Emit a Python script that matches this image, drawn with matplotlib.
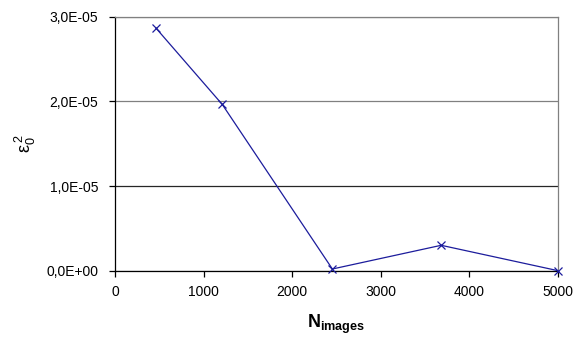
import matplotlib
matplotlib.use("Agg")
import matplotlib.pyplot as plt
from matplotlib.ticker import FuncFormatter

plt.rcParams['font.family'] = ['Liberation Sans', 'DejaVu Sans']
plt.rcParams['mathtext.fontset'] = 'custom'
plt.rcParams['mathtext.rm'] = 'Liberation Sans'
plt.rcParams['mathtext.it'] = 'Liberation Sans'
plt.rcParams['mathtext.bf'] = 'Liberation Sans:bold'

n_images = [463, 1212, 2455, 3684, 5000]
eps0_sq = [2.865e-5, 1.963e-5, 2.0e-7, 3.0e-6, 1.0e-8]
x_ticks = [0, 1000, 2000, 3000, 4000, 5000]
y_ticks = [0.0, 1.0e-5, 2.0e-5, 3.0e-5]

fig = plt.figure(figsize=(5.74, 3.40), dpi=100)
ax = fig.add_axes([115/574, (340-270.7)/340, (557.7-115)/574, (270.7-16.7)/340])

ax.plot(n_images, eps0_sq, color='#1c1c9c', linewidth=0.9, marker='x',
        markersize=6, markeredgewidth=0.9, clip_on=False, zorder=3)

ax.set_xlim(0, 5000)
ax.set_ylim(0, 3.0e-5)
ax.set_xticks(x_ticks)
ax.set_yticks(y_ticks)

def yfmt(v, pos):
    s = '%.1E' % v
    s = s.replace('.', ',')
    return s
ax.yaxis.set_major_formatter(FuncFormatter(yfmt))

ax.tick_params(axis='both', direction='out', length=4, width=0.9,
               labelsize=10, colors='black')
ax.tick_params(axis='y', pad=8)
ax.tick_params(axis='x', pad=6)

ax.yaxis.grid(True, color='#808080', linewidth=0.9)
ax.set_axisbelow(True)
for gl, v in zip(ax.yaxis.get_gridlines(), y_ticks):
    if abs(v - 1.0e-5) < 1e-9:
        gl.set_color('#262626')

for s in ['top', 'right']:
    ax.spines[s].set_color('#808080')
    ax.spines[s].set_linewidth(0.9)
for s in ['left', 'bottom']:
    ax.spines[s].set_color('black')
    ax.spines[s].set_linewidth(0.9)

fig.text(336/574, 1 - 324/340, r'$\mathbf{N}_{\mathbf{images}}$', ha='center',
         va='center', fontsize=13)
fig.text(25/574, 1 - 143/340, r'$\varepsilon_0^{\,2}$', ha='center', va='center',
         rotation=90, fontsize=13)

fig.savefig('out.png', dpi=100)
